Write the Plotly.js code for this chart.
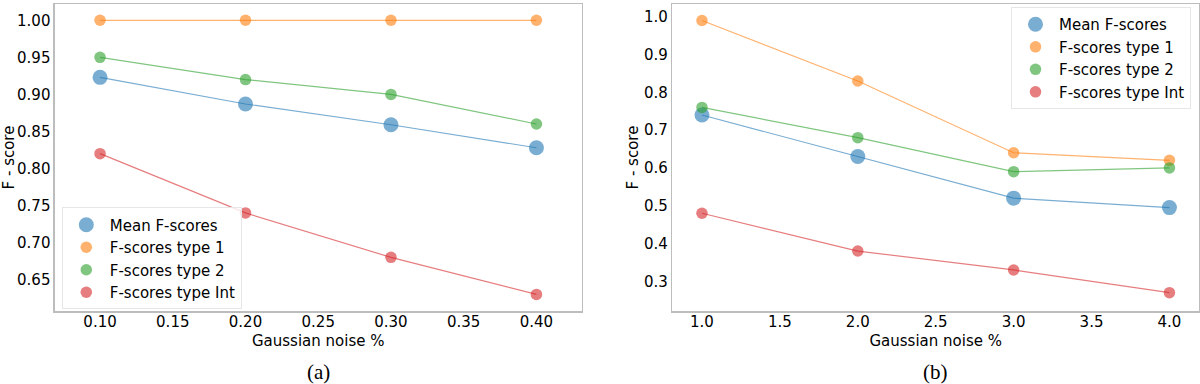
<!DOCTYPE html>
<html>
<head>
<meta charset="utf-8">
<script src="https://cdn.plot.ly/plotly-3.0.1.min.js"></script>
<style>
  html, body { margin: 0; padding: 0; background: #fff; }
  #plot { width: 1200px; height: 384px; }
</style>
</head>
<body>
<div id="plot"></div>
<script>
// series names
const seriesNames = ['Mean F-scores', 'F-scores type 1', 'F-scores type 2', 'F-scores type Int'];

// panel (a)
const noiseA = [0.10, 0.20, 0.30, 0.40];
const meanA = [0.923, 0.887, 0.859, 0.828];
const type1A = [1.00, 1.00, 1.00, 1.00];
const type2A = [0.95, 0.92, 0.90, 0.86];
const typeIntA = [0.82, 0.74, 0.68, 0.63];

// panel (b)
const noiseB = [1.0, 2.0, 3.0, 4.0];
const meanB = [0.74, 0.63, 0.52, 0.495];
const type1B = [0.99, 0.83, 0.64, 0.62];
const type2B = [0.76, 0.68, 0.59, 0.60];
const typeIntB = [0.48, 0.38, 0.33, 0.27];

const tickFont = { family: 'DejaVu Sans', size: 15, color: '#000' };

const colors = [
    'rgba(31,119,180,0.6)',
    'rgba(255,127,14,0.6)',
    'rgba(44,160,44,0.6)',
    'rgba(214,39,40,0.6)'
];
const sizes = [15, 11.5, 11.5, 11.5];

function makeTraces(x, ys, xa, ya, legendName) {
    const traces = [];
    // lines first, so markers sit on top
    ys.forEach((y, i) => {
        traces.push({
            x: x, y: y, xaxis: xa, yaxis: ya,
            mode: 'lines', type: 'scatter',
            line: { color: colors[i], width: 1.2 },
            showlegend: false, hoverinfo: 'skip'
        });
    });
    ys.forEach((y, i) => {
        traces.push({
            x: x, y: y, xaxis: xa, yaxis: ya,
            mode: 'markers', type: 'scatter',
            name: seriesNames[i],
            legend: legendName,
            marker: { color: colors[i], size: sizes[i], line: { width: 0 } }
        });
    });
    return traces;
}

const data = [
    ...makeTraces(noiseA, [meanA, type1A, type2A, typeIntA], 'x', 'y', 'legend'),
    ...makeTraces(noiseB, [meanB, type1B, type2B, typeIntB], 'x2', 'y2', 'legend2')
];

const frame = {
    showline: true, mirror: true, linecolor: '#bdbdbd', linewidth: 1.5,
    showgrid: false, zeroline: false, ticks: '', tickfont: tickFont
};

const legendStyle = {
    font: { family: 'DejaVu Sans', size: 15, color: '#000' },
    bgcolor: 'rgba(255,255,255,0.8)',
    bordercolor: '#e6e6e6', borderwidth: 1,
    itemsizing: 'trace', itemwidth: 37, tracegroupgap: 0
};

const captionFont = { family: 'Liberation Serif', size: 21, color: '#000' };

const layout = {
    width: 1200, height: 384,
    margin: { l: 0, r: 0, t: 4, b: 73 },
    paper_bgcolor: '#fff', plot_bgcolor: '#fff',
    xaxis: Object.assign({}, frame, {
        domain: [0.0458, 0.4846], range: [0.069, 0.431],
        tickvals: [0.10, 0.15, 0.20, 0.25, 0.30, 0.35, 0.40], tickformat: '.2f',
        ticklabelstandoff: -4,
        title: { text: 'Gaussian noise %', font: tickFont, standoff: 6 }
    }),
    yaxis: Object.assign({}, frame, {
        range: [0.6076, 1.022],
        tickvals: [0.65, 0.70, 0.75, 0.80, 0.85, 0.90, 0.95, 1.00], tickformat: '.2f',
        title: { text: 'F - score', font: tickFont, standoff: 4 }
    }),
    xaxis2: Object.assign({}, frame, {
        domain: [0.5603, 0.9992], range: [0.81, 4.19], anchor: 'y2',
        tickvals: [1.0, 1.5, 2.0, 2.5, 3.0, 3.5, 4.0], tickformat: '.1f',
        ticklabelstandoff: -4,
        title: { text: 'Gaussian noise %', font: tickFont, standoff: 6 }
    }),
    yaxis2: Object.assign({}, frame, {
        range: [0.2214, 1.0336], anchor: 'x2',
        tickvals: [0.3, 0.4, 0.5, 0.6, 0.7, 0.8, 0.9, 1.0], tickformat: '.1f',
        title: { text: 'F - score', font: tickFont, standoff: 2 }
    }),
    legend: Object.assign({}, legendStyle, {
        x: 0.0515, xanchor: 'left', y: 0.005, yanchor: 'bottom'
    }),
    legend2: Object.assign({}, legendStyle, {
        x: 0.8425, xanchor: 'left', y: 0.99, yanchor: 'top'
    }),
    annotations: [
        { text: '(a)', xref: 'x domain', yref: 'paper', x: 0.5, y: -0.2, yanchor: 'middle',
          showarrow: false, font: captionFont },
        { text: '(b)', xref: 'x2 domain', yref: 'paper', x: 0.5, y: -0.2, yanchor: 'middle',
          showarrow: false, font: captionFont }
    ],
    showlegend: true
};

Plotly.newPlot('plot', data, layout, { displayModeBar: false, staticPlot: true });
</script>
</body>
</html>
